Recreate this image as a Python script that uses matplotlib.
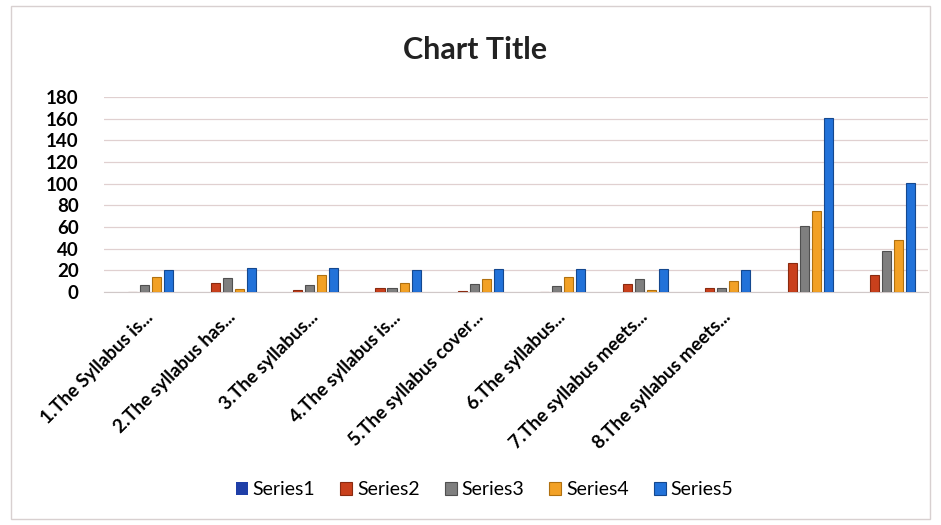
import matplotlib
matplotlib.use("Agg")
import matplotlib.pyplot as plt
import numpy as np

plt.rcParams['font.family'] = ['Lato', 'DejaVu Sans']

categories = ["1.The Syllabus is...", "2.The syllabus has...", "3.The syllabus...",
              "4.The syllabus is...", "5.The syllabus cover...", "6.The syllabus...",
              "7.The syllabus meets...", "8.The syllabus meets...", "", ""]
series_names = ["Series1", "Series2", "Series3", "Series4", "Series5"]
series1 = [0, 0, 0, 0, 0, 0, 0, 0, 0, 0]
series2 = [0, 8, 2, 4, 1, 0, 7, 4, 27, 16]
series3 = [6, 13, 6, 4, 7, 5, 12, 4, 61, 38]
series4 = [14, 3, 16, 8, 12, 14, 2, 10, 75, 48]
series5 = [20, 22, 22, 20, 21, 21, 21, 20, 161, 101]
colors = ["#1f3fa8", "#c9401c", "#7f7f7f", "#f2a126", "#2272d9"]
edges = ["#142a70", "#8a2a10", "#505050", "#b07010", "#14488f"]

fig = plt.figure(figsize=(9.41, 5.25), dpi=100)
ax = fig.add_axes([0.11, 0.444, 0.876, 0.371])

x = np.arange(len(categories))
step = 0.146
width = 0.11
data = [series1, series2, series3, series4, series5]
for i, vals in enumerate(data):
    ax.bar(x + (i - 2) * step, vals, width, color=colors[i], edgecolor=edges[i],
           linewidth=0.8 if i > 0 else 0, label=series_names[i], zorder=3)

ax.set_xlim(-0.5, len(categories) - 0.5)
ax.set_ylim(0, 180)
ax.set_yticks(np.arange(0, 181, 20))
ax.yaxis.grid(True, color="#e0d0d0", linewidth=0.9, zorder=0)
ax.set_axisbelow(True)
for s in ["top", "right", "left"]:
    ax.spines[s].set_visible(False)
ax.spines["bottom"].set_color("#d0c8c8")
ax.tick_params(axis="both", length=0)
ax.tick_params(axis="y", labelsize=13.5, pad=18)
for lab in ax.get_yticklabels():
    lab.set_fontweight("bold")

ax.set_xticks(x)
ax.set_xticklabels(categories, rotation=45, ha="right", rotation_mode="anchor",
                   fontsize=13.5, fontweight="bold")
ax.tick_params(axis="x", pad=12)

fig.text(0.505, 0.905, "Chart Title", ha="center", va="center", fontsize=22,
         fontweight="bold", color="#222222")

fig.legend(loc="center", bbox_to_anchor=(0.515, 0.067), ncol=5, frameon=False,
           fontsize=14, handlelength=0.6, handleheight=0.6, handletextpad=0.25,
           columnspacing=1.3)

fig.patches.append(plt.Rectangle((0.012, 0.012), 0.976, 0.976, transform=fig.transFigure,
                                 fill=False, edgecolor="#d8d0d0", linewidth=1))

fig.savefig("out.png", dpi=100)
